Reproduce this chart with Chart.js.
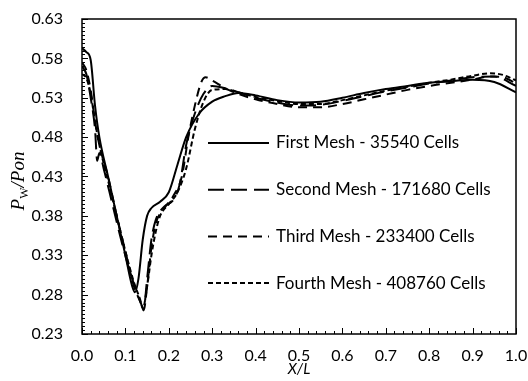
<!DOCTYPE html>
<html lang="en">
<head>
    <meta charset="UTF-8">
    <title>Mesh study</title>
    <script src="https://cdn.jsdelivr.net/npm/chart.js"></script>
    <style>
        body { margin: 0; background: #fff; }
        #wrap { width: 528px; height: 381px; }
    </style>
</head>
<body>
    <div id="wrap"><canvas id="chart"></canvas></div>

    <script>
        const seriesNames = ['First Mesh - 35540 Cells', 'Second Mesh - 171680 Cells',
            'Third Mesh - 233400 Cells', 'Fourth Mesh - 408760 Cells'];

        const xFirst = [0.0, 0.01, 0.02, 0.03, 0.04, 0.06, 0.08, 0.10, 0.115, 0.122, 0.13, 0.14, 0.15, 0.16, 0.18, 0.20, 0.22, 0.24, 0.27, 0.30, 0.33, 0.36, 0.40, 0.45, 0.50, 0.55, 0.60, 0.65, 0.70, 0.75, 0.80, 0.85, 0.90, 0.95, 1.0];
        const yFirst = [0.593, 0.588, 0.578, 0.52, 0.48, 0.43, 0.38, 0.33, 0.292, 0.283, 0.30, 0.35, 0.38, 0.39, 0.398, 0.41, 0.445, 0.48, 0.51, 0.525, 0.532, 0.536, 0.533, 0.527, 0.524, 0.525, 0.530, 0.536, 0.541, 0.545, 0.549, 0.551, 0.553, 0.550, 0.537];

        const xSecond = [0.0, 0.01, 0.02, 0.03, 0.035, 0.04, 0.05, 0.07, 0.09, 0.11, 0.125, 0.135, 0.142, 0.15, 0.16, 0.17, 0.19, 0.21, 0.225, 0.24, 0.26, 0.28, 0.30, 0.33, 0.36, 0.40, 0.45, 0.50, 0.55, 0.60, 0.65, 0.70, 0.75, 0.80, 0.85, 0.90, 0.95, 1.0];
        const ySecond = [0.57, 0.56, 0.53, 0.49, 0.45, 0.46, 0.44, 0.395, 0.35, 0.31, 0.285, 0.27, 0.262, 0.30, 0.35, 0.375, 0.392, 0.40, 0.42, 0.47, 0.51, 0.535, 0.545, 0.542, 0.537, 0.53, 0.524, 0.52, 0.521, 0.526, 0.532, 0.538, 0.543, 0.548, 0.552, 0.556, 0.557, 0.545];

        const xThird = [0.0, 0.01, 0.02, 0.03, 0.04, 0.06, 0.08, 0.10, 0.12, 0.135, 0.142, 0.15, 0.16, 0.17, 0.19, 0.21, 0.23, 0.245, 0.26, 0.275, 0.285, 0.30, 0.33, 0.36, 0.40, 0.45, 0.50, 0.55, 0.60, 0.65, 0.70, 0.75, 0.80, 0.85, 0.90, 0.94, 0.97, 1.0];
        const yThird = [0.575, 0.565, 0.54, 0.50, 0.47, 0.43, 0.38, 0.335, 0.29, 0.27, 0.26, 0.29, 0.34, 0.37, 0.39, 0.405, 0.43, 0.48, 0.52, 0.55, 0.556, 0.552, 0.542, 0.535, 0.528, 0.522, 0.518, 0.518, 0.522, 0.528, 0.534, 0.540, 0.545, 0.549, 0.553, 0.557, 0.556, 0.548];

        const xFourth = [0.0, 0.01, 0.02, 0.03, 0.04, 0.06, 0.08, 0.10, 0.12, 0.135, 0.14, 0.15, 0.16, 0.17, 0.18, 0.20, 0.22, 0.24, 0.26, 0.28, 0.30, 0.33, 0.36, 0.40, 0.45, 0.50, 0.55, 0.60, 0.65, 0.70, 0.75, 0.80, 0.85, 0.90, 0.94, 0.97, 1.0];
        const yFourth = [0.56, 0.555, 0.535, 0.50, 0.47, 0.425, 0.38, 0.335, 0.295, 0.272, 0.262, 0.29, 0.33, 0.36, 0.38, 0.395, 0.41, 0.44, 0.49, 0.525, 0.54, 0.541, 0.537, 0.531, 0.526, 0.522, 0.522, 0.527, 0.533, 0.539, 0.544, 0.549, 0.553, 0.558, 0.561, 0.559, 0.552];

        const xTicks = [0.0, 0.1, 0.2, 0.3, 0.4, 0.5, 0.6, 0.7, 0.8, 0.9, 1.0];
        const yTicks = [0.23, 0.28, 0.33, 0.38, 0.43, 0.48, 0.53, 0.58, 0.63];

        const dashes = [[], [16, 7], [9, 6], [5, 3]];
        const font = 'Lato';

        function pts(xs, ys) {
            return xs.map((x, i) => ({ x: x, y: ys[i] }));
        }

        // frame, inward ticks, y title with subscript, legend inside the plot
        const decor = {
            id: 'decor',
            afterDraw(chart) {
                const ctx = chart.ctx;
                const a = chart.chartArea;
                const xs = chart.scales.x, ys = chart.scales.y;
                ctx.save();
                ctx.strokeStyle = '#000';
                ctx.lineWidth = 1.5;
                ctx.strokeRect(a.left, a.top, a.right - a.left, a.bottom - a.top);

                ctx.lineWidth = 1;
                ctx.beginPath();
                for (let i = 0; i <= 50; i++) {
                    const px = Math.round(xs.getPixelForValue(i * 0.02)) + 0.5;
                    const len = i % 5 === 0 ? 6 : 3;
                    ctx.moveTo(px, a.bottom);
                    ctx.lineTo(px, a.bottom - len);
                }
                for (let i = 0; i <= 80; i++) {
                    const py = Math.round(ys.getPixelForValue(0.23 + i * 0.005)) + 0.5;
                    const len = i % 10 === 0 ? 6 : 3;
                    ctx.moveTo(a.left, py);
                    ctx.lineTo(a.left + len, py);
                }
                ctx.stroke();

                // y title: Pw/Pon
                ctx.translate(18, 181);
                ctx.rotate(-Math.PI / 2);
                ctx.fillStyle = '#000';
                ctx.textBaseline = 'alphabetic';
                const big = 'italic 19px "Liberation Serif"';
                const small = '12px "Liberation Serif"';
                const parts = [['P', big, 0], ['W', small, 4], ['/Pon', big, 0]];
                let w = 0;
                parts.forEach(p => { ctx.font = p[1]; w += ctx.measureText(p[0]).width; });
                let x = -w / 2;
                parts.forEach(p => {
                    ctx.font = p[1];
                    ctx.fillText(p[0], x, 6 + p[2]);
                    x += ctx.measureText(p[0]).width;
                });
                ctx.restore();

                // legend
                ctx.save();
                ctx.font = '17px ' + font;
                ctx.textBaseline = 'middle';
                ctx.fillStyle = '#000';
                chart.data.datasets.forEach((ds, i) => {
                    const y = 143 + i * 46.7;
                    ctx.strokeStyle = '#000';
                    ctx.lineWidth = 2;
                    ctx.setLineDash(ds.borderDash);
                    ctx.beginPath();
                    ctx.moveTo(208, y);
                    ctx.lineTo(269, y);
                    ctx.stroke();
                    ctx.setLineDash([]);
                    ctx.fillText(ds.label, 276, y);
                });
                ctx.restore();
            }
        };

        const allX = [xFirst, xSecond, xThird, xFourth];
        const allY = [yFirst, ySecond, yThird, yFourth];

        new Chart(document.getElementById('chart'), {
            type: 'line',
            data: {
                datasets: seriesNames.map((name, i) => ({
                    label: name,
                    data: pts(allX[i], allY[i]),
                    borderColor: '#000',
                    borderWidth: 2,
                    borderDash: dashes[i],
                    pointRadius: 0,
                    fill: false,
                    cubicInterpolationMode: 'monotone'
                }))
            },
            options: {
                responsive: true,
                maintainAspectRatio: false,
                animation: false,
                layout: { padding: { top: 19, right: 12, left: 0, bottom: 0 } },
                plugins: {
                    legend: { display: false },
                    tooltip: { enabled: false }
                },
                scales: {
                    x: {
                        type: 'linear',
                        min: 0, max: 1,
                        afterBuildTicks: s => { s.ticks = xTicks.map(v => ({ value: v })); },
                        afterFit: s => {
                            s.height = 47;
                            s.paddingLeft = 0;
                            s.paddingRight = 0;
                        },
                        grid: { display: false, drawTicks: false },
                        border: { display: false },
                        ticks: {
                            color: '#000',
                            font: { family: font, size: 16 },
                            padding: 12,
                            maxRotation: 0,
                            callback: v => v.toFixed(1)
                        },
                        title: {
                            display: true,
                            text: 'X/L',
                            color: '#000',
                            font: { family: font, size: 15, style: 'italic' },
                            padding: { top: 0, bottom: 3 }
                        }
                    },
                    y: {
                        min: 0.23, max: 0.63,
                        afterBuildTicks: s => { s.ticks = yTicks.map(v => ({ value: v })); },
                        afterFit: s => {
                            s.width = 82;
                            s.paddingTop = 0;
                            s.paddingBottom = 0;
                        },
                        grid: { display: false, drawTicks: false },
                        border: { display: false },
                        ticks: {
                            color: '#000',
                            font: { family: font, size: 16 },
                            padding: 19,
                            callback: v => v.toFixed(2)
                        }
                    }
                }
            },
            plugins: [decor]
        });
    </script>
</body>
</html>
